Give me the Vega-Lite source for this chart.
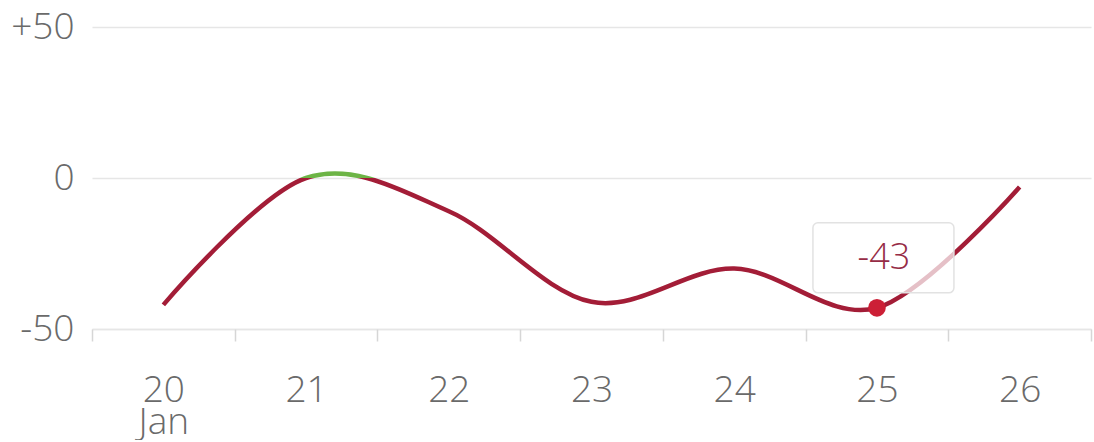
{
  "$schema": "https://vega.github.io/schema/vega-lite/v6.json",
  "padding": {"left": 10, "top": 8, "right": 3, "bottom": 0},
  "background": "white",
  "config": {
    "view": {"stroke": null},
    "font": "Open Sans",
    "concat": {"spacing": 0}
  },
  "data": {
    "values": [
      {"day": 20, "value": -42},
      {"day": 21, "value": 0},
      {"day": 22, "value": -11},
      {"day": 23, "value": -41},
      {"day": 24, "value": -30},
      {"day": 25, "value": -43},
      {"day": 26, "value": -3}
    ]
  },
  "bounds": "flush",
  "spacing": 0,
  "vconcat": [
    {
      "width": 999,
      "height": 151,
      "mark": {"type": "line", "interpolate": "cardinal", "color": "#6db446", "strokeWidth": 4.5, "clip": true},
      "encoding": {
        "x": {"field": "day", "type": "quantitative", "scale": {"domain": [19.5, 26.5], "nice": false, "zero": false}, "axis": null},
        "y": {
          "field": "value", "type": "quantitative",
          "scale": {"domain": [0, 50], "nice": false, "zero": false},
          "axis": {
            "title": null, "values": [0, 50], "domain": false, "ticks": false,
            "labelExpr": "datum.value > 0 ? '+' + datum.value : '' + datum.value",
            "labelFont": "Open Sans", "labelFontSize": 37, "labelFontWeight": 300, "labelColor": "#6a6a6a",
            "labelPadding": 18, "minExtent": 80, "maxExtent": 80,
            "grid": true, "gridColor": "#e6e6e6", "gridWidth": 1.5
          }
        }
      }
    },
    {
      "width": 999,
      "height": 151,
      "layer": [
        {
          "mark": {"type": "line", "interpolate": "cardinal", "color": "#a31d37", "strokeWidth": 4.5, "clip": true},
          "encoding": {
            "x": {
              "field": "day", "type": "quantitative",
              "scale": {"domain": [19.5, 26.5], "nice": false, "zero": false},
              "axis": {
                "orient": "bottom",
                "title": null, "values": [20, 21, 22, 23, 24, 25, 26], "ticks": false,
                "domain": true, "domainColor": "#e6e6e6", "domainWidth": 1.5, "grid": false,
                "labelExpr": "datum.value == 20 ? ['20', 'Jan'] : datum.label",
                "labelFont": "Open Sans", "labelFontSize": 37, "labelFontWeight": 300, "labelColor": "#6a6a6a",
                "labelPadding": 43, "labelLineHeight": 32
              }
            },
            "y": {
              "field": "value", "type": "quantitative",
              "scale": {"domain": [-50, 0], "nice": false, "zero": false},
              "axis": {
                "title": null, "values": [-50], "domain": false, "ticks": false,
                "labelExpr": "'' + datum.value",
                "labelFont": "Open Sans", "labelFontSize": 37, "labelFontWeight": 300, "labelColor": "#6a6a6a",
                "labelPadding": 18, "minExtent": 80, "maxExtent": 80, "labelFlush": false,
                "grid": true, "gridColor": "#e6e6e6", "gridWidth": 1.5
              }
            }
          }
        },
        {
          "transform": [{"filter": "datum.day == 25"}],
          "mark": {"type": "circle", "color": "#cc1f36", "opacity": 1, "size": 314},
          "encoding": {
            "x": {
              "field": "day", "type": "quantitative",
              "axis": {
                "orient": "bottom",
                "title": null, "values": [19.5, 20.5, 21.5, 22.5, 23.5, 24.5, 25.5, 26.5],
                "labels": false, "domain": false, "grid": false,
                "ticks": true, "tickSize": 12, "tickColor": "#d6d6d6", "tickWidth": 1.5
              }
            },
            "y": {"field": "value", "type": "quantitative"}
          }
        },
        {
          "transform": [{"filter": "datum.day == 25"}],
          "mark": {"type": "rect", "width": 141, "height": 70, "xOffset": 6.5, "yOffset": -50, "fill": "white", "fillOpacity": 0.72, "stroke": "#e2e2e2", "strokeWidth": 1.5, "cornerRadius": 5},
          "encoding": {
            "x": {"field": "day", "type": "quantitative", "axis": null},
            "y": {"field": "value", "type": "quantitative"}
          }
        },
        {
          "transform": [{"filter": "datum.day == 25"}],
          "mark": {"type": "text", "font": "Open Sans", "fontSize": 36, "fontWeight": 300, "color": "#962c46", "xOffset": 7, "yOffset": -50, "align": "center", "baseline": "middle"},
          "encoding": {
            "x": {"field": "day", "type": "quantitative", "axis": null},
            "y": {"field": "value", "type": "quantitative"},
            "text": {"field": "value", "type": "nominal"}
          }
        }
      ],
      "resolve": {"axis": {"x": "independent"}}
    }
  ]
}
